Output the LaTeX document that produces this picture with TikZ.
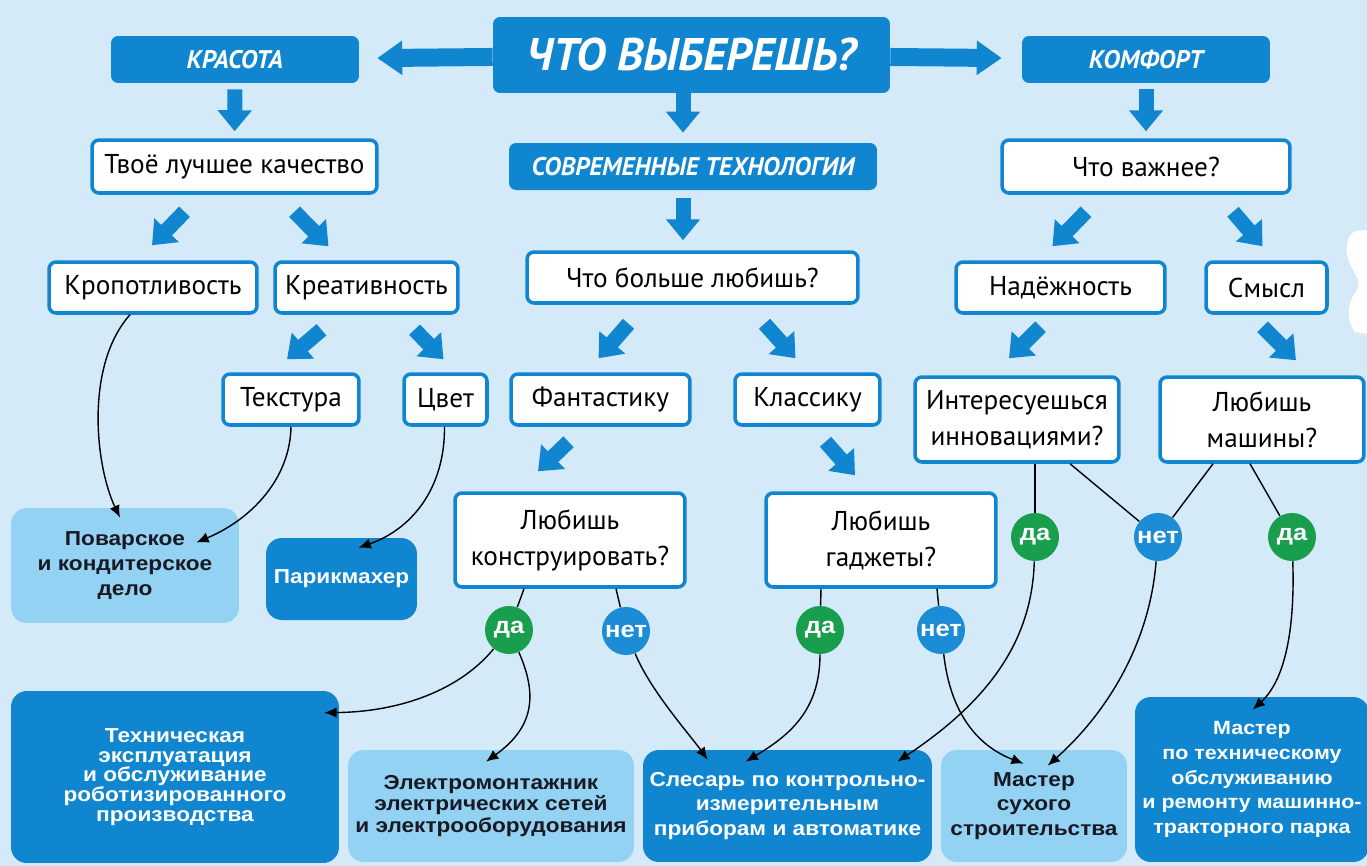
\documentclass[tikz,border=0pt]{standalone}
\usepackage{fontspec}
\setmainfont{PT Sans}
\newfontfamily\jobfont[FakeStretch=1.12]{Liberation Sans}
\usetikzlibrary{arrows.meta,calc}

\definecolor{bgblue}{RGB}{212,234,248}
\definecolor{boxblue}{RGB}{16,134,208}
\definecolor{paleblue}{RGB}{148,210,243}
\definecolor{yesgreen}{RGB}{24,158,76}
\definecolor{noblue}{RGB}{28,140,214}
\definecolor{inkdark}{RGB}{25,25,35}

\begin{document}
\begin{tikzpicture}[x=0.02cm, y=-0.02cm,
    question/.style={draw=boxblue, line width=2pt, fill=white, rounded corners=4pt,
      text=black, align=center, inner sep=0pt, font=\fontsize{15.5}{20.5}\selectfont},
    header/.style={fill=boxblue, rounded corners=4pt, text=white, inner sep=0pt,
      font=\bfseries\itshape\fontsize{14.5}{17}\selectfont},
    jobdark/.style={fill=boxblue, rounded corners=9pt, text=white, align=center, inner sep=0pt,
      font=\jobfont\bfseries\fontsize{11.5}{14}\selectfont},
    joblight/.style={jobdark, fill=paleblue, text=inkdark},
    yescirc/.style={circle, fill=yesgreen, text=white, minimum size=0.96cm, inner sep=0pt,
      font=\jobfont\bfseries\fontsize{13}{13}\selectfont},
    nocirc/.style={yescirc, fill=noblue},
    widearrow/.style={draw=boxblue, line width=0.36cm, -{Triangle[width=0.66cm,length=0.5cm]}},
    fatarrow/.style={draw=boxblue, line width=0.3cm, -{Triangle[width=0.66cm,length=0.42cm]}},
    link/.style={draw=black, line width=0.8pt},
    pointer/.style={link, -{Latex[length=7pt,width=6pt]}}]

    % Background
    \useasboundingbox (0,0) rectangle (1367,866);
    \fill[bgblue] (0,0) rectangle (1367,866);
    \clip (0,0) rectangle (1367,866);
    \fill[white] (1367,230) -- (1356,231) .. controls (1346,234) and (1344,252) .. (1350,264)
      .. controls (1354,274) and (1362,280) .. (1357,290)
      .. controls (1348,300) and (1345,320) .. (1355,332) -- (1367,334) -- cycle;

    % Top row
    \node[header, minimum width=7.94cm, minimum height=1.52cm,
      font=\bfseries\itshape\fontsize{26}{30}\selectfont] (title) at (691.5,55) {ЧТО ВЫБЕРЕШЬ?};
    \node[header, minimum width=4.96cm, minimum height=0.94cm] (krasota) at (235,59.5) {КРАСОТА};
    \node[header, minimum width=4.96cm, minimum height=0.94cm] (komfort) at (1146,59.5) {КОМФОРТ};
    \node[header, minimum width=7.36cm, minimum height=0.94cm] (tech) at (693,166.5) {СОВРЕМЕННЫЕ ТЕХНОЛОГИИ};

    % Questions
    \node[question, minimum width=5.7cm, minimum height=1.06cm] (kachestvo) at (234.5,166.5) {Твоё лучшее качество};
    \node[question, minimum width=5.76cm, minimum height=1.06cm] (vazhnee) at (1146,166.5) {Что важнее?};
    \node[question, minimum width=6.62cm, minimum height=1.02cm] (lyubish) at (692.5,277.5) {Что больше любишь?};
    \node[question, minimum width=4.16cm, minimum height=1.02cm] (kropot) at (153,287.5) {Кропотливость};
    \node[question, minimum width=3.66cm, minimum height=1.02cm] (kreativ) at (366.5,287.5) {Креативность};
    \node[question, minimum width=4.18cm, minimum height=1.02cm] (nadezh) at (1060.5,287.5) {Надёжность};
    \node[question, minimum width=2.42cm, minimum height=1.02cm] (smysl) at (1266.5,287.5) {Смысл};
    \node[question, minimum width=2.72cm, minimum height=1.02cm] (tekstura) at (291,399.5) {Текстура};
    \node[question, minimum width=1.66cm, minimum height=1.02cm] (cvet) at (445.5,399.5) {Цвет};
    \node[question, minimum width=3.58cm, minimum height=1.02cm] (fantast) at (600.5,399.5) {Фантастику};
    \node[question, minimum width=2.9cm, minimum height=1.02cm] (klassik) at (807.5,399.5) {Классику};
    \node[question, minimum width=4.08cm, minimum height=1.7cm] (innov) at (1017,419.5) {Интересуешься\\инновациями?};
    \node[question, minimum width=4.08cm, minimum height=1.7cm] (mashiny) at (1262,419.5) {Любишь\\машины?};
    \node[question, minimum width=4.6cm, minimum height=1.88cm] (konstr) at (570,540) {Любишь\\конструировать?};
    \node[question, minimum width=4.6cm, minimum height=1.88cm] (gadget) at (881,540) {Любишь\\гаджеты?};

    % Professions
    \node[joblight, minimum width=4.56cm, minimum height=2.3cm] (povar) at (125,565.5) {Поварское\\и кондитерское\\дело};
    \node[jobdark, minimum width=3.02cm, minimum height=1.64cm] (parik) at (341.5,579) {Парикмахер};
    \node[jobdark, minimum width=6.56cm, minimum height=3.44cm,
      font=\jobfont\bfseries\fontsize{11.5}{11.2}\selectfont] (tehexp) at (175,777)
      {Техническая\\эксплуатация\\и обслуживание\\роботизированного\\производства};
    \node[joblight, minimum width=5.72cm, minimum height=2.24cm,
      font=\jobfont\bfseries\fontsize{11.5}{12.2}\selectfont] (elektro) at (491,806)
      {Электромонтажник\\электрических сетей\\и электрооборудования};
    \node[jobdark, minimum width=5.78cm, minimum height=2.24cm] (slesar) at (787.5,806)
      {Слесарь по контрольно-\\измерительным\\приборам и автоматике};
    \node[joblight, minimum width=3.72cm, minimum height=2.24cm] (suhoy) at (1034,806) {Мастер\\сухого\\строительства};
    \node[jobdark, minimum width=4.68cm, minimum height=3.3cm,
      font=\jobfont\bfseries\fontsize{10.9}{14}\selectfont] (master) at (1252,779.5)
      {Мастер\\по техническому\\обслуживанию\\и ремонту машинно-\\тракторного парка};

    % Answers
    \node[yescirc] (da1) at (509,630) {да};
    \node[nocirc] (net1) at (626,631) {нет};
    \node[yescirc] (da2) at (820,630) {да};
    \node[nocirc] (net2) at (941,630) {нет};
    \node[yescirc] (da3) at (1035,537) {да};
    \node[nocirc] (net3) at (1158,537) {нет};
    \node[yescirc] (da4) at (1292,537) {да};

    % Blue arrows
    \draw[widearrow, shorten >=0.36cm] (title) -- (krasota);
    \draw[widearrow, shorten >=0.4cm] (title) -- (komfort);
    \draw[fatarrow] ($(title.south)+(-8.5,0)$) -- ($(tech.north)+(-10,-10)$);
    \draw[fatarrow] ($(tech.south)+(-10,8)$) -- ($(lyubish.north)+(-9.5,-10)$);
    \draw[fatarrow, shorten <=0.12cm, shorten >=0.14cm] (krasota) -- (kachestvo);
    \draw[fatarrow, shorten <=0.12cm, shorten >=0.14cm] (komfort) -- (vazhnee);
    \draw[fatarrow] ($(kachestvo.south)+(-50,17)$) -- ($(kropot.north)+(-1,-15)$);
    \draw[fatarrow] ($(kachestvo.south)+(60,17)$) -- ($(kreativ.north)+(-38,-14)$);
    \draw[fatarrow] ($(kreativ.south)+(-45,15)$) -- ($(tekstura.north)+(-4,-13)$);
    \draw[fatarrow] ($(kreativ.south)+(48,15)$) -- ($(cvet.north)+(-2,-13)$);
    \draw[fatarrow] ($(lyubish.south)+(-64,19)$) -- ($(fantast.north)+(-2,-14)$);
    \draw[fatarrow] ($(lyubish.south)+(72,19)$) -- ($(klassik.north)+(-12,-14)$);
    \draw[fatarrow] ($(fantast.south)+(-32,15)$) -- ($(konstr.north)+(-32,-20)$);
    \draw[fatarrow] ($(klassik.south)+(18,15)$) -- ($(gadget.north)+(-26,-16)$);
    \draw[fatarrow] ($(vazhnee.south)+(-60,17)$) -- ($(nadezh.north)+(-8,-14)$);
    \draw[fatarrow] ($(vazhnee.south)+(87,17)$) -- ($(smysl.north)+(-4,-14)$);
    \draw[fatarrow] ($(nadezh.south)+(-20,12)$) -- ($(innov.north)+(-8,-17)$);
    \draw[fatarrow] ($(smysl.south)+(-4,12)$) -- ($(mashiny.north)+(34,-15)$);

    % Lines to answers
    \draw[link] ($(konstr.south)+(-46,0)$) -- (da1);
    \draw[link] ($(konstr.south)+(46,0)$) -- (net1);
    \draw[link] ($(gadget.south)+(-60,0)$) -- (da2);
    \draw[link] ($(gadget.south)+(56,0)$) -- (net2);
    \draw[link] ($(innov.south)+(18,0)$) -- (da3);
    \draw[link] ($(innov.south)+(53,0)$) -- (net3);
    \draw[link] ($(mashiny.south)+(-49,0)$) -- (net3);
    \draw[link] ($(mashiny.south)+(-12,0)$) -- (da4);

    % Curved pointers
    \draw[pointer] ($(kropot.south)+(-23,0)$) .. controls (85,365) and (95,465) .. ($(povar.north)+(-5,10)$);
    \draw[pointer] (tekstura.south) .. controls (290,480) and (250,520) .. ($(povar.east)+(-43,-23)$);
    \draw[pointer] ($(cvet.south)+(-1,0)$) .. controls (445,490) and (410,530) .. ($(parik.north)+(17,10)$);
    \draw[pointer] (da1) .. controls (460,690) and (400,712) .. ($(tehexp.north east)+(-15,22)$);
    \draw[pointer] (da1) .. controls (540,700) and (530,730) .. ($(elektro.north)+(-5,12)$);
    \draw[pointer] (net1) .. controls (650,690) and (690,735) .. ($(slesar.north west)+(65,10)$);
    \draw[pointer] (da2) .. controls (820,710) and (790,735) .. ($(slesar.north west)+(103,12)$);
    \draw[pointer] (da3) .. controls (1032,640) and (990,700) .. ($(slesar.north east)+(-35,12)$);
    \draw[pointer] (net2) .. controls (950,710) and (975,745) .. ($(suhoy.north west)+(83,14)$);
    \draw[pointer] (net3) .. controls (1150,640) and (1110,710) .. ($(suhoy.north west)+(107,16)$);
    \draw[pointer] (da4) .. controls (1295,630) and (1285,680) .. ($(master.north west)+(118,13)$);
\end{tikzpicture}
\end{document}
